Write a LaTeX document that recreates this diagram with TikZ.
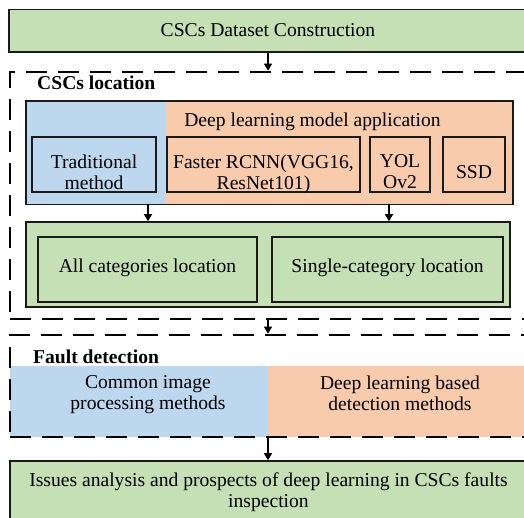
\documentclass[tikz,border=0pt]{standalone}
\usepackage{fontspec}
\setmainfont{Liberation Serif}
\usetikzlibrary{arrows.meta,fit}
\definecolor{boxgreen}{HTML}{C5E0B4}
\definecolor{boxblue}{HTML}{BDD7EE}
\definecolor{boxorange}{HTML}{F8CBAD}
\definecolor{edge}{HTML}{1A1A1A}
\begin{document}
\begin{tikzpicture}[x=1pt,y=-1pt,
  every node/.style={font=\fontsize{19.6}{21}\selectfont},
  panel/.style={draw=edge, line width=1.6pt, inner sep=0pt},
  band/.style={inner sep=0pt},
  frame/.style={draw=black, line width=2.6pt, dash pattern=on 21pt off 11pt, inner sep=0pt},
  arr/.style={draw=black, line width=1.4pt, -{Triangle[length=7pt,width=8pt]}},
  head/.style={font=\fontsize{19.6}{21}\selectfont\bfseries, anchor=base west, inner sep=0pt},
  line/.style={anchor=base, inner sep=0pt},
  txt/.style={align=center, inner sep=0pt}]
\useasboundingbox (0,0) rectangle (524,517);
\clip (0,0) rectangle (524,517);

% vertical axes of the connectors
\coordinate (axis) at (268,0);
\coordinate (axl) at (148,0);
\coordinate (axr) at (389,0);

% dataset construction
\node[panel, fill=boxgreen, fit={(9,9.5) (545,52)}] (data) {};
\node[line] (datatxt) at (268,36) {CSCs Dataset Construction};

% CSCs location stage
\node[frame, fit={(10,72) (545,319)}] (loc) {};
\node[head] (lochead) at (37,89) {CSCs location};

\node[panel, fit={(27,102) (512,203.5)}] (methods) {};
\fill[boxblue] (methods.north west) rectangle (166,203.5);
\fill[boxorange] (166,102) rectangle (methods.south east);
\draw[edge, line width=1.6pt] (methods.north west) rectangle (methods.south east);
\node[line] (dltxt) at (312.5,126) {Deep learning model application};

\node[panel, fit={(32,137) (156,192)}] (trad) {};
\node[txt] at (94,172) {Traditional\\method};
\node[panel, fit={(167,137) (360,192)}] (frcnn) {};
\node[txt] at (263.5,174) {Faster RCNN(VGG16,\\ResNet101)};
\node[panel, fit={(370,137) (430,192)}] (yolo) {};
\node[txt] at (400,172) {YOL\\Ov2};
\node[panel, fit={(443,137) (505,192)}] (ssd) {};
\node[line] at (474,178) {SSD};

\node[panel, fill=boxgreen, fit={(26,222) (510,307)}] (cats) {};
\node[panel, fit={(38,237) (257,302)}] (allcat) {};
\node[line] at (147.5,272.5) {All categories location};
\node[panel, fit={(272,237) (503,302)}] (single) {};
\node[line] at (387.5,272.5) {Single-category location};

% fault detection stage
\node[band, fill=boxblue, fit={(10,366) (268,437)}] (common) {};
\node[band, fill=boxorange, fit={(268,366) (545,437)}] (deepdet) {};
\node[frame, fit={(10,335) (545,437)}] (fault) {};
\node[head] (faulthead) at (33,363) {Fault detection};
\node[txt] at (148,395) {Common image\\processing methods};
\node[txt] at (400,393) {Deep learning based\\detection methods};

% analysis and prospects
\node[panel, fill=boxgreen, fit={(10,461) (545,540)}] (issues) {};
\node[txt] at (268.5,492.5) {Issues analysis and prospects of deep learning in CSCs faults\\inspection};

% connectors
\draw[arr] (data.south -| axis) -- (loc.north -| axis);
\draw[arr] (methods.south -| axl) -- (cats.north -| axl);
\draw[arr] (methods.south -| axr) -- (cats.north -| axr);
\draw[arr] (loc.south -| axis) -- (fault.north -| axis);
\draw[arr] (fault.south -| axis) -- (issues.north -| axis);
\end{tikzpicture}
\end{document}
